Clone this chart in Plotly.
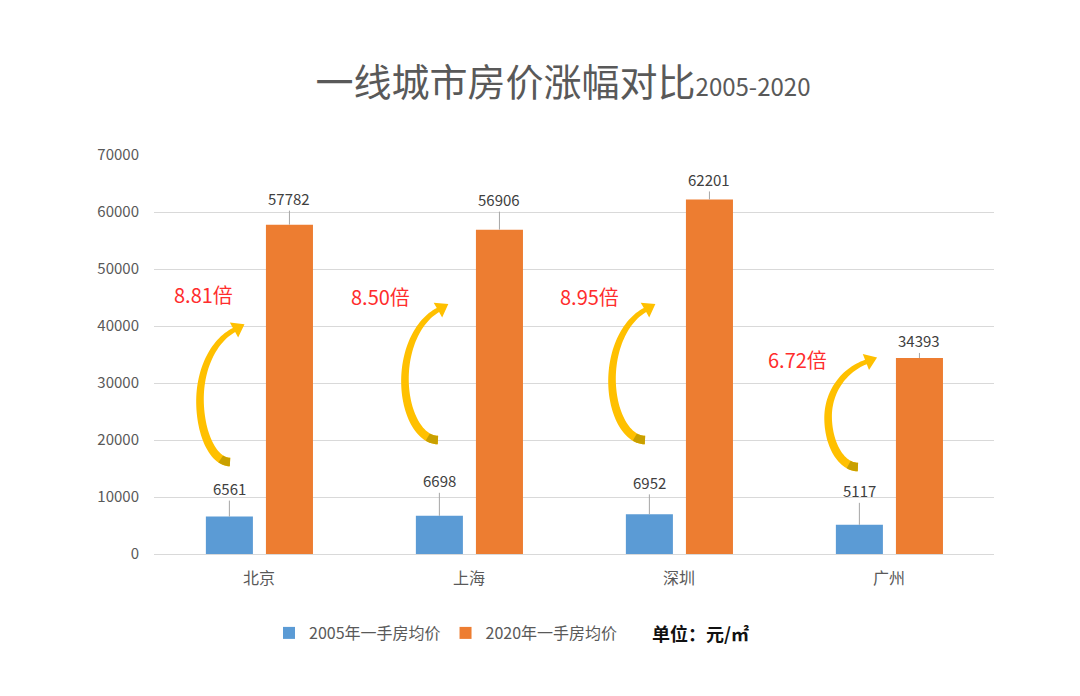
import math
import plotly.graph_objects as go

# ---------------- data ----------------
cities = ["北京", "上海", "深圳", "广州"]
price_2005 = [6561, 6698, 6952, 5117]
price_2020 = [57782, 56906, 62201, 34393]
series_names = ["2005年一手房均价", "2020年一手房均价"]
y_ticks = [0, 10000, 20000, 30000, 40000, 50000, 60000, 70000]
title_main = "一线城市房价涨幅对比"
title_sub = "2005-2020"
unit_text = "单位：元/㎡"

# ---------------- layout constants ----------------
W, H = 1080, 696
PAGE = 8  # page body margin of the html output
ML, MR, MT, MB = 154 - PAGE, 86 + PAGE, 155 - PAGE, 142 + PAGE
PLOT_W = W - ML - MR
PLOT_H = H - MT - MB
Y_MAX = 70000
N = len(cities)
SX = PLOT_W / N          # px per category unit
SY = PLOT_H / Y_MAX      # px per value unit

BAR_W = 0.224
OFF_BLUE = -0.253
OFF_ORANGE = 0.033
BLUE = "#5B9BD5"
ORANGE = "#ED7D31"
GRID = "#D9D9D9"
TXT = "#595959"
LBL = "#404040"
FONT = "Noto Sans CJK SC"

# label lift (px) for the data labels (leader-line length)
lift_2005 = [28, 35, 32, 34]
lift_2020 = [26, 30, 20, 17]

# ratio label placement (x offset from category centre, y in value units)
ratio_dx = [-0.415, -0.57, -0.575, -0.585]
ratio_y = [45440, 45260, 45260, 34040]

# curved arrow geometry (x offsets in category units, y in value units)
arrow_geom = {
    "bottom_dx": [-0.138, -0.148, -0.162, -0.148],
    "bottom_y": [16140, 20000, 20000, 15260],
    "left_dx": [-0.281, -0.305, -0.319, -0.290],
    "left_y": [27010, 30520, 30520, 24030],
    "head_dx": [-0.119, -0.148, -0.162, -0.110],
    "head_y": [39290, 42800, 42800, 33680],
}

xs = list(range(N))

fig = go.Figure()
fig.add_trace(go.Bar(
    x=xs, y=price_2005, name=series_names[0], marker_color=BLUE,
    width=BAR_W, offset=OFF_BLUE, marker_line_width=0,
))
fig.add_trace(go.Bar(
    x=xs, y=price_2020, name=series_names[1], marker_color=ORANGE,
    width=BAR_W, offset=OFF_ORANGE, marker_line_width=0,
))

annotations = []
for i in range(N):
    for vals, off, lifts in ((price_2005, OFF_BLUE, lift_2005), (price_2020, OFF_ORANGE, lift_2020)):
        annotations.append(dict(
            x=i + off + BAR_W / 2, y=vals[i], xref="x", yref="y",
            text=str(vals[i]), showarrow=True, arrowhead=0, arrowwidth=1,
            arrowcolor="#A6A6A6", ax=0, ay=-lifts[i], standoff=0,
            font=dict(family=FONT, size=15, color=LBL),
        ))
    ratio = price_2020[i] / price_2005[i]
    annotations.append(dict(
        x=i + ratio_dx[i], y=ratio_y[i], xref="x", yref="y",
        text=f"{ratio:.2f}倍", showarrow=False, xanchor="left", yanchor="middle",
        font=dict(family=FONT, size=20, color="#FF2D2D"),
    ))

LEG_Y = -((633 - PAGE) - (MT + PLOT_H)) / PLOT_H
annotations.append(dict(
    x=(650 - PAGE - ML) / PLOT_W, y=LEG_Y, xref="paper", yref="paper",
    text=f"<b>{unit_text}</b>", showarrow=False, xanchor="left", yanchor="middle",
    font=dict(family=FONT, size=18, color="#111111"),
))


def arrow_path(i):
    g = arrow_geom
    Xb, Yb = g["bottom_dx"][i] * SX, g["bottom_y"][i] * SY
    Xl, Yl = g["left_dx"][i] * SX, g["left_y"][i] * SY
    Xh, Yh = g["head_dx"][i] * SX, g["head_y"][i] * SY
    pts = []
    rx_l, ry_l = Xb - Xl, Yl - Yb
    n1 = 30
    for k in range(n1 + 1):
        th = math.radians(270 - 90 * k / n1)
        pts.append((Xb + rx_l * math.cos(th), Yl + ry_l * math.sin(th)))
    th_end = 110
    rx_u = (Xh - Xl) / (1 + math.cos(math.radians(th_end)))
    ry_u = (Yh - Yl) / math.sin(math.radians(th_end))
    xu = Xl + rx_u
    n2 = 30
    for k in range(1, n2 + 1):
        th = math.radians(180 - (180 - th_end) * k / n2)
        pts.append((xu + rx_u * math.cos(th), Yl + ry_u * math.sin(th)))
    n = len(pts)
    tang, norms = [], []
    for k in range(n):
        a = pts[max(k - 1, 0)]
        b = pts[min(k + 1, n - 1)]
        dx, dy = b[0] - a[0], b[1] - a[1]
        L = math.hypot(dx, dy) or 1
        tang.append((dx / L, dy / L))
        norms.append((-dy / L, dx / L))
    widths = []
    for k in range(n):
        s = k / (n - 1)
        widths.append(8.5 - 3.8 * s + 1.0 * math.sin(math.pi * s))
    left = [(p[0] + nn[0] * w / 2, p[1] + nn[1] * w / 2) for p, nn, w in zip(pts, norms, widths)]
    right = [(p[0] - nn[0] * w / 2, p[1] - nn[1] * w / 2) for p, nn, w in zip(pts, norms, widths)]
    B = pts[-1]
    t = tang[-1]
    nn = norms[-1]
    hw, hl = 8.5, 12.0
    head = [(B[0] + nn[0] * hw, B[1] + nn[1] * hw),
            (B[0] + t[0] * hl, B[1] + t[1] * hl),
            (B[0] - nn[0] * hw, B[1] - nn[1] * hw)]
    poly = left + head + right[::-1]

    def to_path(poly_pts):
        segs = []
        for j, (X, Y) in enumerate(poly_pts):
            segs.append(("M" if j == 0 else "L") + f"{i + X / SX:.5f},{Y / SY:.2f}")
        return " ".join(segs) + " Z"

    k_tail = 6
    tail = left[:k_tail + 1] + right[:k_tail + 1][::-1]
    return to_path(poly), to_path(tail)


shapes = []
for i in range(N):
    main_p, tail_p = arrow_path(i)
    shapes.append(dict(type="path", path=main_p, xref="x", yref="y",
                       fillcolor="#FFC000", line=dict(width=0), layer="above"))
    shapes.append(dict(type="path", path=tail_p, xref="x", yref="y",
                       fillcolor="#C9A000", line=dict(width=0), layer="above"))

fig.update_layout(
    width=W, height=H,
    margin=dict(l=ML, r=MR, t=MT, b=MB),
    paper_bgcolor="white", plot_bgcolor="white",
    barmode="overlay",
    font=dict(family=FONT, color=TXT, size=15),
    title=dict(
        text=f"{title_main}<span style='font-size:24px'>{title_sub}</span>",
        x=(563 - PAGE) / W, xanchor="center", y=1 - (83 - PAGE) / H, yanchor="middle",
        font=dict(family=FONT, size=38, color=TXT),
    ),
    xaxis=dict(
        range=[-0.5, N - 0.5], tickmode="array", tickvals=xs, ticktext=cities,
        showgrid=False, zeroline=False, showline=True, linecolor=GRID, linewidth=1,
        ticks="", ticklabelstandoff=10, tickfont=dict(family=FONT, size=16, color=TXT),
        fixedrange=True,
    ),
    yaxis=dict(
        range=[0, Y_MAX], tickmode="array", tickvals=y_ticks,
        ticktext=[str(v) for v in y_ticks],
        showgrid=True, gridcolor=GRID, gridwidth=1, zeroline=False, showline=False,
        ticks="", ticklabelstandoff=14, tickfont=dict(family=FONT, size=15, color=TXT),
        fixedrange=True,
    ),
    legend=dict(
        orientation="h", x=(269 - PAGE - ML) / PLOT_W, xanchor="left",
        y=LEG_Y, yanchor="middle",
        font=dict(family=FONT, size=16, color=TXT), itemwidth=30,
        bgcolor="rgba(0,0,0,0)",
    ),
    annotations=annotations,
    shapes=shapes,
    showlegend=True,
)

fig.write_html("out.html")
